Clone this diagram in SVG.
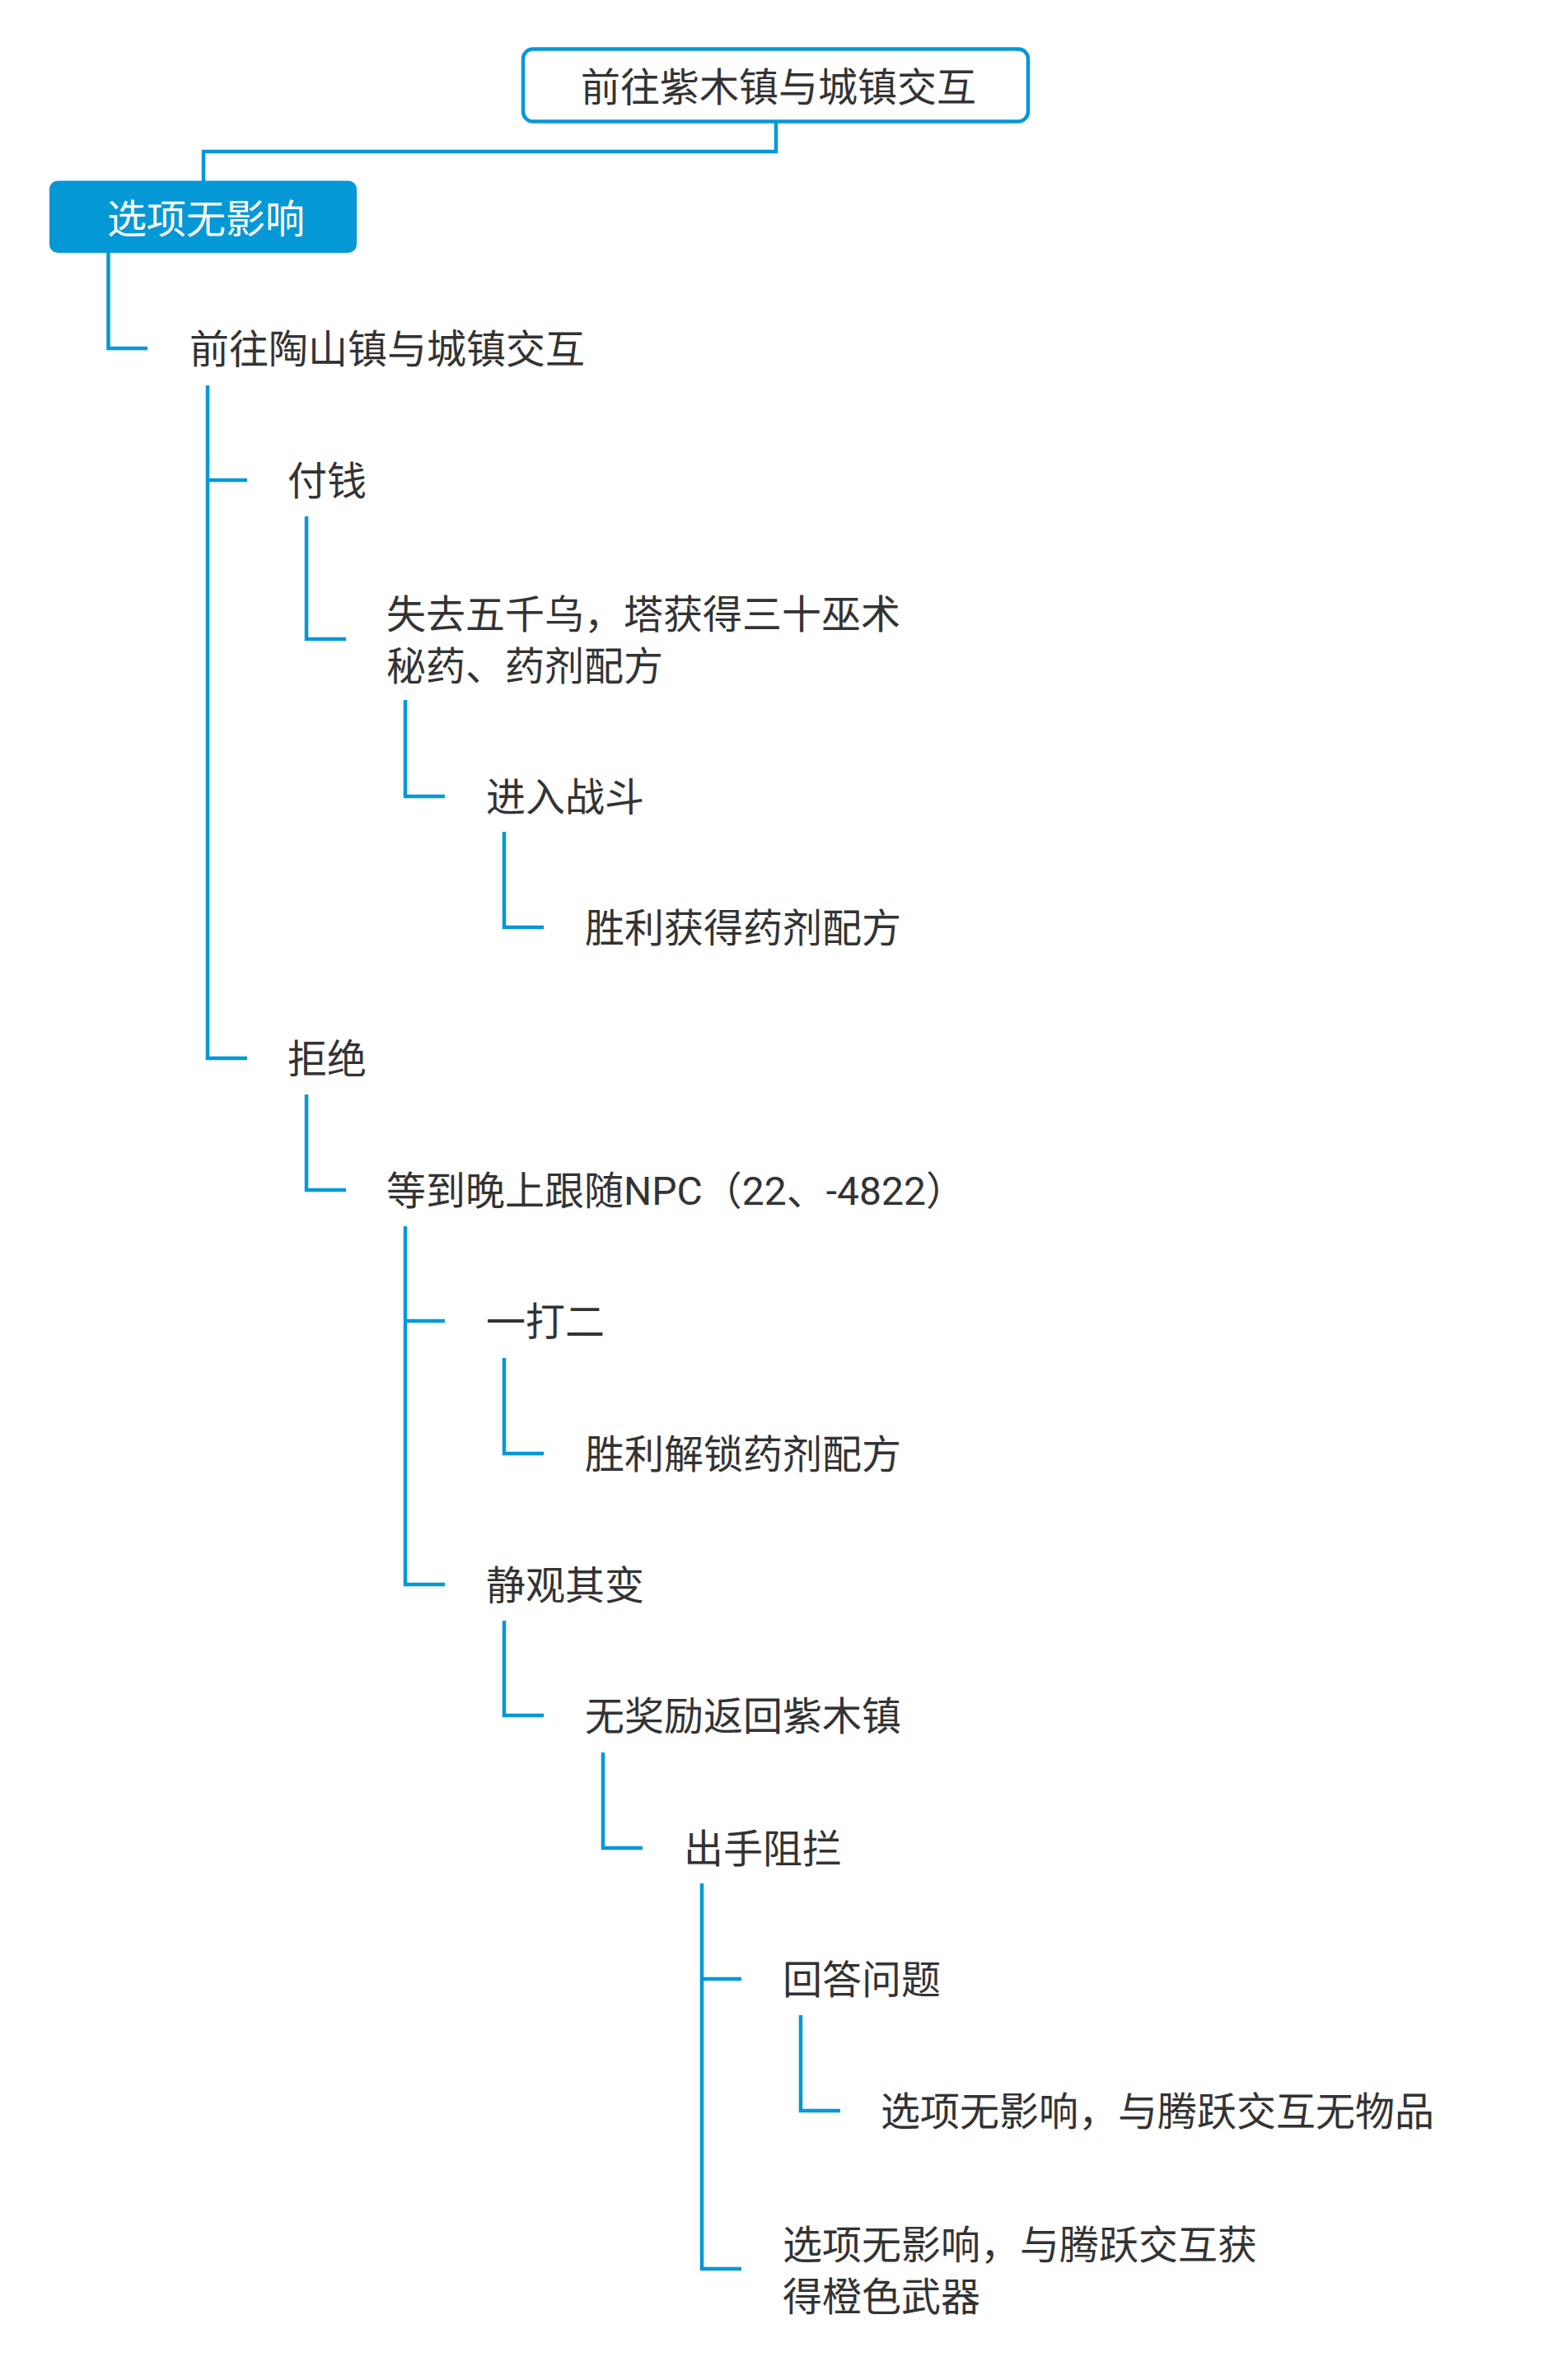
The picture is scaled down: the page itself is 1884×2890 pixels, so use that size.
<svg xmlns="http://www.w3.org/2000/svg" width="1884" height="2890" viewBox="0 0 1884 2890">
<style>
.t{font-family:Roboto,"Noto Sans CJK SC",sans-serif;font-size:48px;fill:#333333}
.w{font-family:Roboto,"Noto Sans CJK SC",sans-serif;font-size:48px;fill:#ffffff}
.c{fill:none;stroke:#0598d6;stroke-width:4.5;stroke-linecap:butt;stroke-linejoin:miter}
</style>
<rect width="1884" height="2890" fill="#ffffff"/>
<g id="connectors" class="c">
<path d="M942,149 V184 H247 V220"/>
<path d="M131.5,307 V423 H179"/>
<path d="M252,468 V1285 H300 M252,583 H300"/>
<path d="M372,627 V776 H420"/>
<path d="M492,850 V967 H540"/>
<path d="M612,1010 V1126 H660"/>
<path d="M372,1329 V1445 H420"/>
<path d="M492,1489 V1924 H540 M492,1604 H540"/>
<path d="M612,1649 V1765 H660"/>
<path d="M612,1968 V2083 H660"/>
<path d="M732,2128 V2244 H780"/>
<path d="M852,2287 V2755 H900 M852,2403 H900"/>
<path d="M972,2447 V2563 H1020"/>
</g>
<g id="n0"><rect x="635" y="59.5" width="613" height="88" rx="12" fill="#ffffff" stroke="#0598d6" stroke-width="4.5"/><text class="t" x="705" y="123">前往紫木镇与城镇交互</text></g>
<g id="n1"><rect x="60" y="219.5" width="373" height="87.5" rx="10" fill="#0598d6"/><text class="w" x="130" y="283">选项无影响</text></g>
<g id="n2"><text class="t" x="230" y="441">前往陶山镇与城镇交互</text></g>
<g id="n3"><text class="t" x="349" y="601">付钱</text></g>
<g id="n4"><text class="t" x="469" y="763">失去五千乌，塔获得三十巫术</text><text class="t" x="469" y="826">秘药、药剂配方</text></g>
<g id="n5"><text class="t" x="590" y="985">进入战斗</text></g>
<g id="n6"><text class="t" x="710" y="1144">胜利获得药剂配方</text></g>
<g id="n7"><text class="t" x="349" y="1303">拒绝</text></g>
<g id="n8"><text class="t" x="469" y="1463">等到晚上跟随NPC（22、-4822）</text></g>
<g id="n9"><text class="t" x="590" y="1622">一打二</text></g>
<g id="n10"><text class="t" x="710" y="1783">胜利解锁药剂配方</text></g>
<g id="n11"><text class="t" x="590" y="1942">静观其变</text></g>
<g id="n12"><text class="t" x="710" y="2101">无奖励返回紫木镇</text></g>
<g id="n13"><text class="t" x="830" y="2262">出手阻拦</text></g>
<g id="n14"><text class="t" x="950" y="2421">回答问题</text></g>
<g id="n15"><text class="t" x="1069" y="2581">选项无影响，与腾跃交互无物品</text></g>
<g id="n16"><text class="t" x="950" y="2743">选项无影响，与腾跃交互获</text><text class="t" x="950" y="2806">得橙色武器</text></g>
</svg>
